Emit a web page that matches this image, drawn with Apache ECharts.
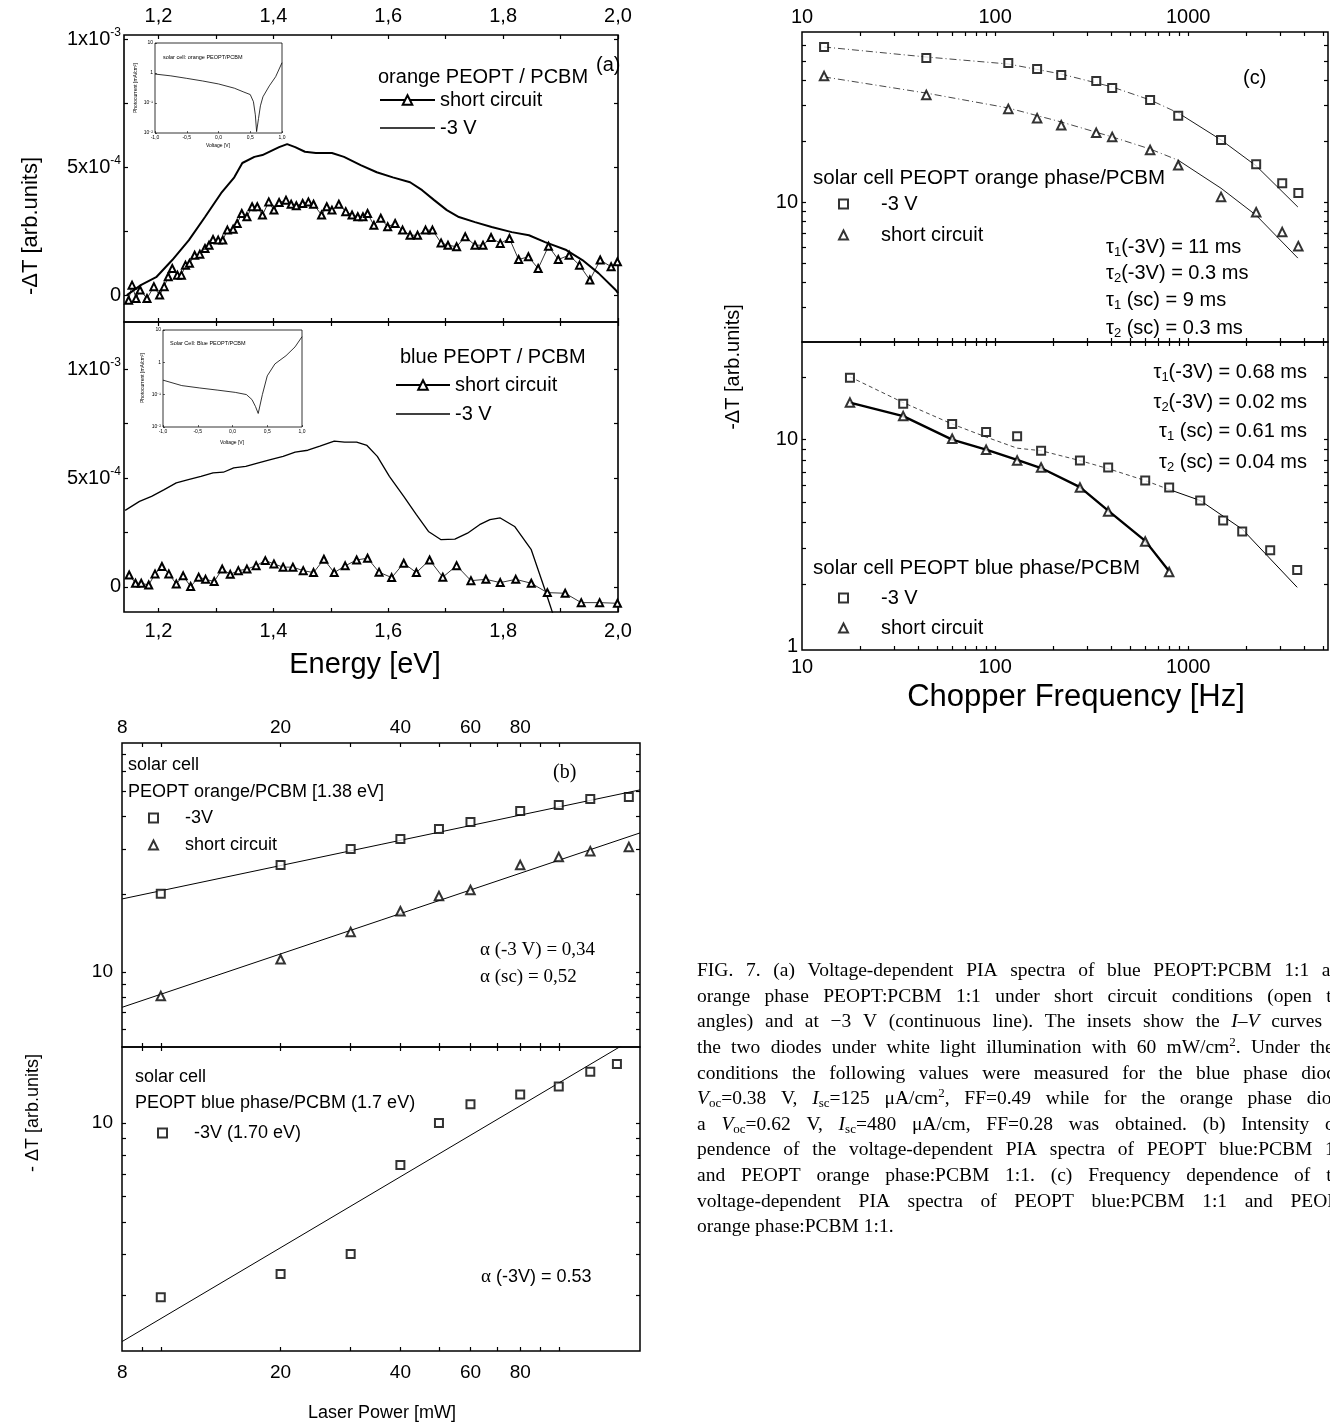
<!DOCTYPE html>
<html>
<head>
<meta charset="utf-8">
<script src="https://cdn.jsdelivr.net/npm/echarts@6/dist/echarts.min.js"></script>
<style>
  html, body { margin: 0; padding: 0; background: #fff; }
  #chart { width: 1330px; height: 1424px; }
</style>
</head>
<body>
<div id="chart"></div>
<script>
const SANS = '"Liberation Sans", Arial, sans-serif';
const SERIF = '"Liberation Serif", "Times New Roman", serif';
const UNIT = 1e-4; // panel (a) values are read in units of 1e-4

// ---------- (a) PIA spectra ----------
const energyOrangeSc = [1.148, 1.154, 1.161, 1.168, 1.180, 1.192, 1.202, 1.210, 1.217, 1.224,
  1.233, 1.240, 1.247, 1.254, 1.263, 1.272, 1.281, 1.288, 1.295, 1.304,
  1.312, 1.320, 1.330, 1.337, 1.345, 1.354, 1.363, 1.372, 1.381, 1.392,
  1.401, 1.410, 1.422, 1.431, 1.440, 1.451, 1.461, 1.470, 1.484, 1.493,
  1.502, 1.514, 1.526, 1.537, 1.547, 1.556, 1.564, 1.575, 1.587, 1.599,
  1.612, 1.625, 1.638, 1.651, 1.665, 1.677, 1.692, 1.704, 1.719, 1.734,
  1.751, 1.765, 1.779, 1.795, 1.811, 1.827, 1.844, 1.861, 1.879, 1.896,
  1.915, 1.933, 1.951, 1.969, 1.988, 1.999];
const orangeSc = [-0.20, 0.39, -0.13, 0.20, -0.13, 0.33, 0.00, 0.33, 0.72, 1.04,
  0.78, 0.78, 1.17, 1.24, 1.56, 1.60, 1.82, 1.95, 2.17, 2.15,
  2.15, 2.54, 2.57, 2.80, 3.19, 3.06, 3.45, 3.45, 3.13, 3.64,
  3.32, 3.62, 3.71, 3.55, 3.49, 3.58, 3.64, 3.55, 3.13, 3.45,
  3.32, 3.55, 3.26, 3.13, 3.06, 3.06, 3.19, 2.73, 3.00, 2.67,
  2.80, 2.54, 2.34, 2.34, 2.54, 2.54, 2.04, 1.95, 1.89, 2.28,
  1.95, 1.95, 2.25, 2.02, 2.21, 1.39, 1.50, 1.04, 1.91, 1.39,
  1.56, 1.17, 0.59, 1.37, 1.11, 1.30];
const energyOrangeBias = [1.145, 1.170, 1.196, 1.224, 1.253, 1.281, 1.309, 1.332, 1.346, 1.367,
  1.381, 1.410, 1.424, 1.438, 1.455, 1.474, 1.502, 1.523, 1.552, 1.580,
  1.608, 1.638, 1.659, 1.680, 1.702, 1.723, 1.751, 1.780, 1.815, 1.845,
  1.873, 1.910, 1.938, 1.966, 1.996, 2.0];
const orangeBias = [0.00, 0.40, 0.70, 1.37, 2.15, 3.05, 3.98, 4.60, 5.16, 5.40,
  5.47, 5.78, 5.90, 5.78, 5.60, 5.55, 5.55, 5.40, 5.08, 4.80,
  4.60, 4.41, 4.10, 3.71, 3.32, 3.05, 2.85, 2.66, 2.46, 2.34,
  2.07, 1.76, 1.37, 0.86, 0.20, 0.08];
const energyBlueSc = [1.149, 1.160, 1.170, 1.183, 1.194, 1.206, 1.218, 1.231, 1.243, 1.256,
  1.270, 1.282, 1.297, 1.311, 1.325, 1.339, 1.354, 1.370, 1.386, 1.401,
  1.417, 1.434, 1.452, 1.470, 1.488, 1.506, 1.525, 1.545, 1.564, 1.584,
  1.606, 1.627, 1.649, 1.672, 1.695, 1.719, 1.744, 1.770, 1.795, 1.822,
  1.849, 1.877, 1.908, 1.936, 1.968, 1.999];
const blueSc = [0.55, 0.17, 0.17, 0.09, 0.60, 0.94, 0.60, 0.14, 0.51, 0.02,
  0.45, 0.35, 0.25, 0.82, 0.58, 0.75, 0.82, 0.98, 1.21, 1.06,
  0.91, 0.91, 0.75, 0.66, 1.27, 0.66, 0.97, 1.24, 1.32, 0.68,
  0.43, 1.09, 0.66, 1.24, 0.45, 0.98, 0.29, 0.35, 0.20, 0.35,
  0.17, -0.26, -0.29, -0.72, -0.72, -0.75];
const energyBlueBias = [1.142, 1.167, 1.188, 1.210, 1.231, 1.252, 1.274, 1.295, 1.313, 1.331,
  1.352, 1.374, 1.395, 1.417, 1.438, 1.460, 1.481, 1.506, 1.524, 1.545,
  1.563, 1.581, 1.602, 1.627, 1.649, 1.670, 1.692, 1.716, 1.738, 1.759,
  1.777, 1.795, 1.820, 1.849, 1.873, 1.890];
const blueBias = [3.52, 3.93, 4.16, 4.47, 4.78, 4.93, 5.08, 5.24, 5.27, 5.47,
  5.54, 5.70, 5.85, 6.00, 6.19, 6.28, 6.47, 6.70, 6.65, 6.65,
  6.50, 6.00, 5.08, 4.16, 3.32, 2.55, 2.17, 2.20, 2.47, 2.86,
  3.09, 3.17, 2.78, 1.71, -0.14, -1.50];

// insets: I-V curves
const insetVoltageOrange = [-1.0, -0.75, -0.5, -0.25, 0, 0.25, 0.4, 0.5, 0.55, 0.58, 0.6, 0.63, 0.66, 0.7, 0.8, 0.9, 1.0];
const insetCurrentOrange = [0.92, 0.80, 0.66, 0.54, 0.43, 0.31, 0.23, 0.19, 0.11, 0.04, 0.011, 0.03, 0.08, 0.16, 0.37, 0.75, 2.2];
const insetVoltageBlue = [-1.0, -0.73, -0.47, -0.21, 0.04, 0.2, 0.28, 0.33, 0.37, 0.43, 0.5, 0.61, 0.77, 0.9, 1.0];
const insetCurrentBlue = [0.28, 0.19, 0.16, 0.137, 0.117, 0.10, 0.07, 0.043, 0.026, 0.1, 0.38, 0.89, 1.6, 3.0, 6.2];

// ---------- (b) laser power dependence ----------
const powerOrange = [10, 20, 30, 40, 50, 60, 80, 100, 120, 150];
const orangeBiasB = [20.1, 26.0, 30.0, 32.8, 35.8, 38.1, 42.1, 44.4, 46.8, 47.7];
const orangeScB = [8.07, 11.2, 14.3, 17.2, 19.7, 20.8, 26.0, 27.9, 29.4, 30.5];
const powerBlue = [10, 20, 30, 40, 50, 60, 80, 100, 120, 140];
const blueBiasB = [2.97, 3.49, 4.01, 7.46, 10.0, 11.4, 12.2, 12.9, 14.3, 15.1];
const fitPowerB = [8, 160];
const fitOrangeBiasB = [19.2, 50.8];
const fitOrangeScB = [7.3, 34.6];
const fitBlueBiasB = [2.18, 18.5];

// ---------- (c) chopper frequency dependence ----------
const freqOrange = [13, 44, 117, 165, 220, 334, 404, 635, 888, 1480, 2250, 3070, 3720];
const orangeBiasC = [58.5, 51.6, 48.8, 45.5, 42.5, 39.7, 36.7, 32.0, 26.7, 20.3, 15.4, 12.4, 11.1];
const orangeScC = [42.0, 33.9, 28.9, 26.0, 24.0, 22.0, 21.0, 18.1, 15.2, 10.6, 8.9, 7.1, 6.05];
const freqFitOrange = [13, 44, 117, 220, 404, 635, 888, 1480, 2250, 3700];
const fitOrangeBiasC = [58.5, 52.2, 48.2, 43.0, 37.1, 32.0, 27.6, 20.3, 15.1, 9.45];
const fitOrangeScC = [41.6, 34.6, 29.2, 24.9, 21.0, 18.3, 16.1, 11.7, 8.6, 5.28];

const freqBlue = [17.7, 33.4, 59.9, 89.8, 130, 173, 275, 385, 599, 797, 1154, 1518, 1905, 2660, 3670];
const blueBiasC = [19.9, 14.9, 11.9, 10.9, 10.4, 8.85, 7.93, 7.34, 6.35, 5.88, 5.09, 4.08, 3.61, 2.93, 2.35];
const freqBlueSc = [17.7, 33.4, 59.9, 89.8, 130, 173, 275, 385, 599, 797];
const blueScC = [15.1, 13.0, 10.1, 8.95, 7.93, 7.34, 5.88, 4.51, 3.23, 2.30];
const freqFitBlueBias = [17.7, 33.4, 59.9, 89.8, 130, 173, 275, 385, 599, 797, 1154, 1905, 3670];
const fitBlueBiasC = [20.1, 15.1, 11.9, 10.3, 9.1, 8.85, 7.93, 7.25, 6.35, 5.75, 5.09, 3.70, 1.94];
const freqFitBlueSc = [17.7, 33.4, 59.9, 89.8, 130, 173, 275, 385, 599, 797];
const fitBlueScC = [15.1, 13.0, 10.0, 8.95, 8.0, 7.3, 5.9, 4.55, 3.25, 2.32];

// ---------- ticks and labels ----------
const energyTicks = [1.2, 1.3, 1.4, 1.5, 1.6, 1.7, 1.8, 1.9, 2.0];
const energyLabels = [1.2, 1.4, 1.6, 1.8, 2.0];
const spectraTicks = [0, 2.5e-4, 5e-4, 7.5e-4, 1e-3];
const spectraLabels = [0, 5e-4, 1e-3];
const voltageLabels = [-1, -0.5, 0, 0.5, 1];
const currentLabels = [0.01, 0.1, 1, 10];
const powerTicks = [9, 10, 20, 30, 40, 50, 60, 70, 80, 90, 100];
const powerLabels = [8, 20, 40, 60, 80];
const orangePowerYTicks = [6, 7, 8, 9, 10, 20, 30, 40, 50, 60, 70];
const bluePowerYTicks = [3, 4, 5, 6, 7, 8, 9, 10];
const freqTicks = [20, 30, 40, 50, 60, 70, 80, 90, 100, 200, 300, 400, 500, 600, 700, 800, 900, 1000, 2000, 3000, 4000, 5000];
const freqLabels = [10, 100, 1000];
const orangeFreqYTicks = [3, 4, 5, 6, 7, 8, 9, 10, 20, 30, 40, 50, 60];
const blueFreqYTicks = [2, 3, 4, 5, 6, 7, 8, 9, 10, 20];

const legendText = {
  a1sc: 'short circuit', a1bias: '-3 V', a2sc: 'short circuit', a2bias: '-3 V',
  b1bias: '-3V', b1sc: 'short circuit', b2bias: '-3V (1.70 eV)',
  c1bias: '-3 V', c1sc: 'short circuit', c2bias: '-3 V', c2sc: 'short circuit'
};

const zip = (xs, ys, k) => xs.map((x, i) => [x, ys[i] * (k || 1)]);
const commaFmt = v => v.toFixed(1).replace('.', ',');
const intFmt = v => String(Math.round(v));
const sciFmt = v => Math.abs(v) < 1e-9 ? '0' : (v > 7e-4 ? '1x10{s|-3}' : '5x10{s|-4}');
const powFmt = v => ({1: '10', 0: '1', '-1': '10\u207b\u00b9', '-2': '10\u207b\u00b2'})[Math.round(Math.log10(v))];

function grid(left, top, width, height, bw) {
  return { left, top, width, height, show: true, borderColor: '#000', borderWidth: bw || 1.5,
    backgroundColor: 'transparent', containLabel: false, outerBoundsMode: 'none' };
}

function ax(gridIndex, position, type, min, max, ticks, labels, o) {
  o = o || {};
  return {
    type, gridIndex, position, min, max,
    axisLine: { show: false, onZero: false },
    splitLine: { show: false },
    axisTick: { show: true, inside: true, length: o.tick || 4, customValues: ticks,
      lineStyle: { color: '#000', width: o.tw || 1.2 } },
    axisLabel: labels ? {
      show: true, customValues: labels, formatter: o.fmt, margin: o.margin || 8,
      fontSize: o.fs || 19, fontFamily: SANS, color: '#000', rich: o.rich
    } : { show: false }
  };
}

function line(name, xi, yi, data, ls) {
  return { type: 'line', name, xAxisIndex: xi, yAxisIndex: yi, data, symbol: 'none',
    clip: true, silent: true, animation: false, z: 3,
    lineStyle: Object.assign({ color: '#000', width: 1 }, ls), itemStyle: { color: '#000' } };
}
function marked(name, xi, yi, data) {
  return { type: 'line', name, xAxisIndex: xi, yAxisIndex: yi, data, symbol: 'emptyTriangle',
    symbolSize: 7, showSymbol: true, clip: true, silent: true, animation: false, z: 4,
    lineStyle: { color: '#000', width: 0.8 }, itemStyle: { color: '#000', borderWidth: 0.8 } };
}
function dots(name, xi, yi, data, symbol) {
  return { type: 'scatter', name, xAxisIndex: xi, yAxisIndex: yi, data, symbol,
    symbolSize: symbol === 'emptyRect' ? 8 : 8.5, silent: true, animation: false, z: 5,
    itemStyle: { color: '#000', borderColor: '#000', borderWidth: 1.1 } };
}
const lineIcon = 'path://M0,0H110V3H0Z';
function leg(names, left, top, o) {
  return { data: names, left, top, orient: 'vertical', padding: 0, selectedMode: false,
    itemWidth: o.w, itemHeight: o.h, itemGap: o.gap, formatter: n => legendText[n],
    textStyle: { fontSize: o.fs, fontFamily: SANS, color: '#000', lineHeight: o.lh, padding: [0, 0, 0, o.pad || 0] } };
}

const supRich = { s: { fontSize: 12, fontFamily: SANS, color: '#000', padding: [0, 0, 13, 0] } };
const dashDot = [7, 3, 1, 3];

const option = {
  backgroundColor: '#fff',
  animation: false,
  grid: [
    grid(124, 35, 494, 287, 1.6),   // 0 (a) orange
    grid(124, 322, 494, 290, 1.6),  // 1 (a) blue
    grid(122, 743, 518, 304),       // 2 (b) orange
    grid(122, 1047, 518, 304),      // 3 (b) blue
    grid(802, 32, 526, 310),        // 4 (c) orange
    grid(802, 342, 526, 308),       // 5 (c) blue
    grid(155, 43, 127, 90, 0.8),    // 6 inset orange
    grid(163, 330, 139, 97, 0.8)    // 7 inset blue
  ],
  xAxis: [
    ax(0, 'bottom', 'value', 1.14, 2.0, energyTicks, null),
    ax(0, 'top', 'value', 1.14, 2.0, energyTicks, energyLabels, { fmt: commaFmt, margin: 9, fs: 20 }),
    ax(1, 'bottom', 'value', 1.14, 2.0, energyTicks, energyLabels, { fmt: commaFmt, margin: 9, fs: 20 }),
    ax(1, 'top', 'value', 1.14, 2.0, energyTicks, null),
    ax(2, 'bottom', 'log', 7.99, 160, powerTicks, null),
    ax(2, 'top', 'log', 7.99, 160, powerTicks, powerLabels, { fmt: intFmt, margin: 6, fs: 19 }),
    ax(3, 'bottom', 'log', 7.99, 160, powerTicks, powerLabels, { fmt: intFmt, margin: 12, fs: 19 }),
    ax(3, 'top', 'log', 7.99, 160, powerTicks, null),
    ax(4, 'bottom', 'log', 9.99, 5300, freqTicks, null),
    ax(4, 'top', 'log', 9.99, 5300, freqTicks, freqLabels, { fmt: intFmt, margin: 5, fs: 20 }),
    ax(5, 'bottom', 'log', 9.99, 5300, freqTicks, freqLabels, { fmt: intFmt, margin: 7, fs: 20 }),
    ax(5, 'top', 'log', 9.99, 5300, freqTicks, null),
    ax(6, 'bottom', 'value', -1, 1, voltageLabels, voltageLabels, { fmt: commaFmt, margin: 2, fs: 5, tick: 2, tw: 0.6 }),
    ax(7, 'bottom', 'value', -1, 1, voltageLabels, voltageLabels, { fmt: commaFmt, margin: 2, fs: 5, tick: 2, tw: 0.6 })
  ],
  yAxis: [
    ax(0, 'left', 'value', -1.05e-4, 1.016e-3, spectraTicks, spectraLabels, { fmt: sciFmt, rich: supRich, margin: 3, fs: 20 }),
    ax(0, 'right', 'value', -1.05e-4, 1.016e-3, spectraTicks, null),
    ax(1, 'left', 'value', -1.15e-4, 1.217e-3, spectraTicks, spectraLabels, { fmt: sciFmt, rich: supRich, margin: 3, fs: 20 }),
    ax(1, 'right', 'value', -1.15e-4, 1.217e-3, spectraTicks, null),
    ax(2, 'left', 'log', 5.12, 77.2, orangePowerYTicks, [10], { fmt: intFmt, margin: 9, fs: 19 }),
    ax(2, 'right', 'log', 5.12, 77.2, orangePowerYTicks, null),
    ax(3, 'left', 'log', 2.04, 17.0, bluePowerYTicks, [10], { fmt: intFmt, margin: 9, fs: 19 }),
    ax(3, 'right', 'log', 2.04, 17.0, bluePowerYTicks, null),
    ax(4, 'left', 'log', 2.03, 69.4, orangeFreqYTicks, [10], { fmt: intFmt, margin: 4, fs: 20 }),
    ax(4, 'right', 'log', 2.03, 69.4, orangeFreqYTicks, null),
    ax(5, 'left', 'log', 0.967, 29.6, blueFreqYTicks, [1, 10], { fmt: intFmt, margin: 4, fs: 20 }),
    ax(5, 'right', 'log', 0.967, 29.6, blueFreqYTicks, null),
    ax(6, 'left', 'log', 0.0099, 10.01, currentLabels, currentLabels, { fmt: powFmt, margin: 2, fs: 5, tick: 2, tw: 0.6 }),
    ax(7, 'left', 'log', 0.0099, 10.01, currentLabels, currentLabels, { fmt: powFmt, margin: 2, fs: 5, tick: 2, tw: 0.6 })
  ],
  legend: [
    leg(['a1sc', { name: 'a1bias', icon: lineIcon }], 379, 89, { w: 55, h: 12, gap: 6, fs: 20, lh: 22 }),
    leg(['a2sc', { name: 'a2bias', icon: lineIcon }], 395, 374, { w: 54, h: 12, gap: 7, fs: 20, lh: 22 }),
    leg(['b1bias', 'b1sc'], 148, 808, { w: 9, h: 9, gap: 7, fs: 18, lh: 20, pad: 22 }),
    leg(['b2bias'], 157, 1123, { w: 9, h: 9, gap: 7, fs: 18, lh: 20, pad: 22 }),
    leg(['c1bias', 'c1sc'], 838, 193, { w: 9, h: 9, gap: 9, fs: 20, lh: 22, pad: 28 }),
    leg(['c2bias', 'c2sc'], 838, 587, { w: 9, h: 9, gap: 8, fs: 20, lh: 22, pad: 28 })
  ],
  series: [
    line('a1bias', 0, 0, zip(energyOrangeBias, orangeBias, UNIT), { width: 2 }),
    marked('a1sc', 0, 0, zip(energyOrangeSc, orangeSc, UNIT)),
    line('a2bias', 2, 2, zip(energyBlueBias, blueBias, UNIT), { width: 1.3 }),
    marked('a2sc', 2, 2, zip(energyBlueSc, blueSc, UNIT)),
    line('insetOrange', 12, 12, zip(insetVoltageOrange, insetCurrentOrange), { width: 0.8 }),
    line('insetBlue', 13, 13, zip(insetVoltageBlue, insetCurrentBlue), { width: 0.8 }),

    line('b1biasFit', 4, 4, zip(fitPowerB, fitOrangeBiasB)),
    line('b1scFit', 4, 4, zip(fitPowerB, fitOrangeScB)),
    dots('b1bias', 4, 4, zip(powerOrange, orangeBiasB), 'emptyRect'),
    dots('b1sc', 4, 4, zip(powerOrange, orangeScB), 'emptyTriangle'),
    line('b2biasFit', 6, 6, zip(fitPowerB, fitBlueBiasB)),
    dots('b2bias', 6, 6, zip(powerBlue, blueBiasB), 'emptyRect'),

    line('c1biasFitDash', 8, 8, zip(freqFitOrange, fitOrangeBiasC).slice(0, 7), { type: dashDot, color: '#333', width: 0.9 }),
    line('c1biasFit', 8, 8, zip(freqFitOrange, fitOrangeBiasC).slice(6), { width: 0.9 }),
    line('c1scFitDash', 8, 8, zip(freqFitOrange, fitOrangeScC).slice(0, 7), { type: dashDot, color: '#333', width: 0.9 }),
    line('c1scFit', 8, 8, zip(freqFitOrange, fitOrangeScC).slice(6), { width: 0.9 }),
    dots('c1bias', 8, 8, zip(freqOrange, orangeBiasC), 'emptyRect'),
    dots('c1sc', 8, 8, zip(freqOrange, orangeScC), 'emptyTriangle'),

    line('c2biasFitDash', 10, 10, zip(freqFitBlueBias, fitBlueBiasC).slice(0, 10), { type: [4, 3], color: '#333', width: 0.9 }),
    line('c2biasFit', 10, 10, zip(freqFitBlueBias, fitBlueBiasC).slice(9), { width: 1 }),
    line('c2scFit', 10, 10, zip(freqFitBlueSc, fitBlueScC), { width: 2.4 }),
    dots('c2bias', 10, 10, zip(freqBlue, blueBiasC), 'emptyRect'),
    dots('c2sc', 10, 10, zip(freqBlueSc, blueScC), 'emptyTriangle')
  ],
  graphic: { elements: [] }
};

// ---------- texts ----------
function T(x, y, text, o) {
  o = o || {};
  return { type: 'text', x, y, rotation: o.rot || 0, silent: true, z: 10,
    style: { text, fill: '#000', fontSize: o.fs || 20, fontFamily: o.ff || SANS, fontStyle: o.italic ? 'italic' : 'normal',
      align: o.align || 'left', textAlign: o.align || 'left', verticalAlign: 'middle', textVerticalAlign: 'middle',
      rich: o.rich } };
}
const subRich = { b: { fontSize: 13, fontFamily: SANS, padding: [10, 0, 0, 0] } };
const tau = (i, rest) => '\u03c4{b|' + i + '}' + rest;
const els = option.graphic.elements;

// (a)
els.push(T(596, 65, '(a)', { fs: 20 }));
els.push(T(378, 77, 'orange PEOPT / PCBM', { fs: 20 }));
els.push(T(400, 357, 'blue PEOPT / PCBM', { fs: 20 }));
els.push(T(31, 226, '-\u0394T [arb.units]', { fs: 22, rot: Math.PI / 2, align: 'center' }));
els.push(T(365, 665, 'Energy [eV]', { fs: 29, align: 'center' }));
els.push(T(163, 57, 'solar cell: orange PEOPT/PCBM', { fs: 5.5 }));
els.push(T(136, 88, 'Photocurrent [mA/cm\u00b2]', { fs: 5, rot: Math.PI / 2, align: 'center' }));
els.push(T(218, 146, 'Voltage [V]', { fs: 5, align: 'center' }));
els.push(T(170, 343, 'Solar Cell: Blue PEOPT/PCBM', { fs: 5.5 }));
els.push(T(143, 378, 'Photocurrent [mA/cm\u00b2]', { fs: 5, rot: Math.PI / 2, align: 'center' }));
els.push(T(232, 443, 'Voltage [V]', { fs: 5, align: 'center' }));

// (b)
els.push(T(128, 765, 'solar cell', { fs: 18 }));
els.push(T(128, 792, 'PEOPT orange/PCBM [1.38 eV]', { fs: 18 }));
els.push(T(553, 773, '(b)', { fs: 20, ff: SERIF }));
els.push(T(480, 950, '\u03b1 (-3 V) = 0,34', { fs: 19, ff: SERIF }));
els.push(T(480, 977, '\u03b1 (sc) = 0,52', { fs: 19, ff: SERIF }));
els.push(T(135, 1077, 'solar cell', { fs: 18 }));
els.push(T(135, 1103, 'PEOPT blue phase/PCBM (1.7 eV)', { fs: 18 }));
els.push(T(481, 1277, '{g|\u03b1} (-3V) = 0.53', { fs: 18, rich: { g: { fontFamily: SERIF, fontSize: 19 } } }));
els.push(T(33, 1113, '- \u0394T [arb.units]', { fs: 18, rot: Math.PI / 2, align: 'center' }));
els.push(T(382, 1413, 'Laser Power [mW]', { fs: 18, align: 'center' }));

// (c)
els.push(T(1243, 78, '(c)', { fs: 20 }));
els.push(T(813, 178, 'solar cell PEOPT orange phase/PCBM', { fs: 20.5 }));
els.push(T(1106, 247, tau(1, '(-3V) = 11 ms'), { fs: 20, rich: subRich }));
els.push(T(1106, 273, tau(2, '(-3V) = 0.3 ms'), { fs: 20, rich: subRich }));
els.push(T(1106, 300, tau(1, ' (sc) = 9 ms'), { fs: 20, rich: subRich }));
els.push(T(1106, 328, tau(2, ' (sc) = 0.3 ms'), { fs: 20, rich: subRich }));
els.push(T(1307, 372, tau(1, '(-3V) = 0.68 ms'), { fs: 20, rich: subRich, align: 'right' }));
els.push(T(1307, 402, tau(2, '(-3V) = 0.02 ms'), { fs: 20, rich: subRich, align: 'right' }));
els.push(T(1307, 431, tau(1, ' (sc) = 0.61 ms'), { fs: 20, rich: subRich, align: 'right' }));
els.push(T(1307, 462, tau(2, ' (sc) = 0.04 ms'), { fs: 20, rich: subRich, align: 'right' }));
els.push(T(813, 568, 'solar cell PEOPT blue phase/PCBM', { fs: 20.5 }));
els.push(T(733, 367, '-\u0394T [arb.units]', { fs: 20, rot: Math.PI / 2, align: 'center' }));
els.push(T(1076, 697, 'Chopper Frequency [Hz]', { fs: 31, align: 'center' }));

// caption, justified word by word
const captionLines = [
  'FIG. 7. (a) Voltage-dependent PIA spectra of blue PEOPT:PCBM 1:1 and',
  'orange phase PEOPT:PCBM 1:1 under short circuit conditions (open tri-',
  'angles) and at \u22123 V (continuous line). The insets show the {i|I\u2013V} curves of',
  'the two diodes under white light illumination with 60 mW/cm{p|2}. Under these',
  'conditions the following values were measured for the blue phase diode:',
  '{i|V}{b|oc}=0.38 V, {i|I}{b|sc}=125 \u03bcA/cm{p|2}, FF=0.49 while for the orange phase diode',
  'a {i|V}{b|oc}=0.62 V, {i|I}{b|sc}=480 \u03bcA/cm, FF=0.28 was obtained. (b) Intensity de-',
  'pendence of the voltage-dependent PIA spectra of PEOPT blue:PCBM 1:1',
  'and PEOPT orange phase:PCBM 1:1. (c) Frequency dependence of the',
  'voltage-dependent PIA spectra of PEOPT blue:PCBM 1:1 and PEOPT',
  'orange phase:PCBM 1:1.'
];
const capFs = 19.5, capLeft = 697, capRight = 1350, capTop = 971, capStep = 25.6;
const capRich = {
  i: { fontSize: capFs, fontFamily: SERIF, fontStyle: 'italic' },
  b: { fontSize: 13, fontFamily: SERIF, padding: [9, 0, 0, 0] },
  p: { fontSize: 13, fontFamily: SERIF, padding: [0, 0, 11, 0] }
};
const mctx = document.createElement('canvas').getContext('2d');
function wordWidth(w) {
  let total = 0;
  w.replace(/\{(\w+)\|([^}]*)\}|([^{]+)/g, (m, st, t, plain) => {
    if (plain) {
      mctx.font = capFs + 'px ' + SERIF;
      total += mctx.measureText(plain).width;
    } else {
      const s = capRich[st];
      mctx.font = (s.fontStyle || 'normal') + ' ' + s.fontSize + 'px ' + SERIF;
      total += mctx.measureText(t).width;
    }
    return m;
  });
  return total;
}
captionLines.forEach((ln, li) => {
  const words = ln.split(' ');
  const widths = words.map(wordWidth);
  const sum = widths.reduce((a, b) => a + b, 0);
  mctx.font = capFs + 'px ' + SERIF;
  const gap = li === captionLines.length - 1 ? mctx.measureText(' ').width
    : (capRight - capLeft - sum) / (words.length - 1);
  let x = capLeft;
  words.forEach((w, wi) => {
    els.push(T(x, capTop + li * capStep, w, { fs: capFs, ff: SERIF, rich: capRich }));
    x += widths[wi] + gap;
  });
});

const chart = echarts.init(document.getElementById('chart'));
chart.setOption(option);
</script>
</body>
</html>
